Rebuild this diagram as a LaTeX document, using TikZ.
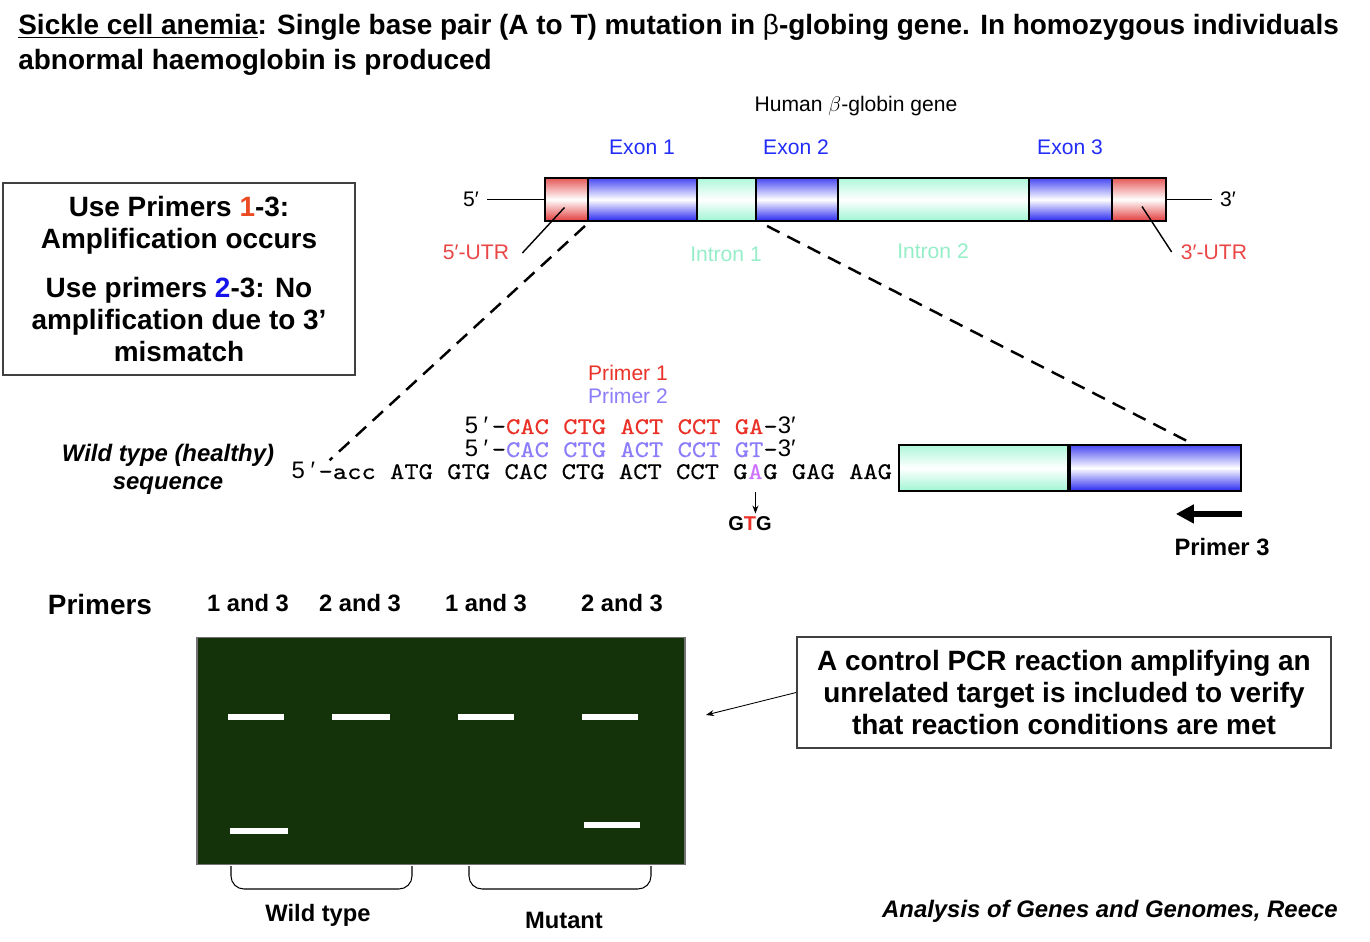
\documentclass[tikz,border=0pt]{standalone}
\usepackage{fontspec}
\setmainfont{Liberation Sans}
\newfontfamily\seqfont[FakeStretch=1.14,FakeBold=0.4]{lmmono10-regular.otf}
\newfontfamily\primefont{Liberation Sans}
\newcommand\pfive{\makebox[0.572cm][s]{\primefont\kern1pt 5\hfill′\kern2pt}}
\newcommand\pthr{\makebox[0.572cm][l]{\primefont 3′}}
\usepackage{xcolor}
\usetikzlibrary{positioning,arrows.meta,calc}
\definecolor{utrred}{RGB}{226,60,60}
\definecolor{exblue}{RGB}{40,40,240}
\definecolor{ingreen}{RGB}{160,245,212}
\definecolor{exontxt}{RGB}{35,45,250}
\definecolor{introntxt}{RGB}{150,238,200}
\definecolor{utrtxt}{RGB}{235,70,70}
\definecolor{pOne}{RGB}{235,50,40}
\definecolor{pTwo}{RGB}{140,125,250}
\definecolor{mutpink}{RGB}{205,115,255}
\definecolor{gelgreen}{RGB}{21,51,11}
\definecolor{oneorange}{RGB}{235,75,35}
\definecolor{twoblue}{RGB}{20,20,235}
\tikzset{
  seg/.style    ={draw, rectangle, line width=1.1pt, inner sep=0pt, minimum height=0.86cm},
  lbl/.style    ={inner sep=0pt, font=\fontsize{12}{14}\selectfont},
  title/.style  ={inner sep=0pt, anchor=base west, font=\fontsize{15.9}{18.2}\selectfont\bfseries},
  infobox/.style={draw=black!75, line width=1pt, align=center, inner sep=0pt, font=\fontsize{15.9}{18.2}\selectfont\bfseries},
  midtxt/.style ={inner sep=0pt, font=\fontsize{13.5}{16}\selectfont\bfseries},
  seqtxt/.style ={inner sep=0pt, anchor=base west, font=\fontsize{13.6}{16}\seqfont},
  band/.style   ={fill=white, inner sep=0pt, minimum height=0.12cm},
  dashln/.style ={line width=1.4pt, dash pattern=on 8pt off 5pt},
  ptr/.style    ={line width=0.8pt},
  arr/.style    ={-{Stealth[length=1.6mm,width=1.2mm]}, line width=0.5pt},
  pthreearr/.style={-{Triangle[length=3.6mm,width=3.6mm]}, line width=3.4pt},
}

\begin{document}
\begin{tikzpicture}[x=0.02cm, y=-0.02cm]
  \path[use as bounding box, fill=white] (0,0) rectangle (1370,942);

  \node[title] (ttlA) at (18,35) {\underline{Sickle cell anemia}: Single base pair (A to T) mutation in {\mdseries β}-globing gene. In homozygous individuals};
  \node[title] (ttlB) at (18,70) {abnormal haemoglobin is produced};

  \node[infobox, minimum width=7.04cm, minimum height=3.84cm] (useBox) at (179,279)
    {Use Primers \textcolor{oneorange}{1}-3:\\Amplification occurs\\[9.7pt]Use primers \textcolor{twoblue}{2}-3: No\\amplification due to 3’\\mismatch};

  \node[lbl] (hdr) at (856,106) {Human $\beta$-globin gene};
  \foreach \nm/\a/\b/\col in {utrA/545/588/utrred, exA/588/697/exblue, inA/697/756/ingreen, exB/756/838/exblue,
                              inB/838/1029/ingreen, exC/1029/1112/exblue, utrB/1112/1166/utrred} {
    \node[seg, top color=\col!85, bottom color=\col, middle color=white, minimum width={(\b-\a)*0.02cm}] (\nm) at ({(\a+\b)/2},199.5) {};
  }
  \node[lbl] (fiveP) at (471,199.5) {5′};
  \node[lbl] (threeP) at (1228,199.5) {3′};
  \draw[line width=1.1pt, shorten <=0.16cm] (fiveP.east) -- (utrA.west);
  \draw[line width=1.1pt, shorten >=0.16cm] (utrB.east) -- (threeP.west);

  \node[lbl, text=exontxt] (exAlbl) at (642,147) {Exon 1};
  \node[lbl, text=exontxt] (exBlbl) at (796,147) {Exon 2};
  \node[lbl, text=exontxt] (exClbl) at (1070,147) {Exon 3};
  \node[lbl, text=introntxt] (inAlbl) at (726,254) {Intron 1};
  \node[lbl, text=introntxt] (inBlbl) at (933,251) {Intron 2};
  \node[lbl, text=utrtxt] (utrAlbl) at (476,252) {5′-UTR};
  \node[lbl, text=utrtxt] (utrBlbl) at (1214,252) {3′-UTR};
  \draw[ptr] ($(utrA.center)+(-2,8)$) -- ($(utrAlbl.east)+(13,1)$);
  \draw[ptr] ($(utrB.center)+(3,7)$) -- ($(utrBlbl.west)+(-9,0)$);

  \node[lbl, text=pOne] (pOneLbl) at (628,373) {Primer 1};
  \node[lbl, text=pTwo] (pTwoLbl) at (628,396) {Primer 2};
  \node[seqtxt] (pOneRow) at (462.8,434) {\pfive-\textcolor{pOne}{CAC CTG ACT CCT GA}-\pthr};
  \node[seqtxt] (pTwoRow) at (462.8,457) {\pfive-\textcolor{pTwo}{CAC CTG ACT CCT GT}-\pthr};
  \node[seqtxt] (seqL) at (289.6,479) {\pfive-acc ATG GTG CAC CTG ACT CCT G};
  \node[seqtxt, text=mutpink] (mutA) at (seqL.base east) {A};
  \node[seqtxt] (seqR) at (mutA.base east) {G GAG AAG};
  \node[inner sep=0pt, font=\fontsize{11.4}{13}\selectfont\bfseries] (gtg) at (750,524) {G\textcolor{pOne}{T}G};
  \draw[arr, shorten <=0.26cm, shorten >=0.06cm] (mutA.south) -- (mutA.south |- gtg.north);

  \node[inner sep=0pt, align=center, font=\fontsize{13.6}{16}\selectfont\bfseries\itshape] (wtLbl) at (168,469) {Wild type (healthy)\\sequence};

  \node[seg, minimum height=0.92cm, top color=ingreen!85, bottom color=ingreen, middle color=white, minimum width=3.38cm] (inR) at (983.5,468) {};
  \node[seg, minimum height=0.92cm, top color=exblue!85, bottom color=exblue, middle color=white, minimum width=3.42cm, anchor=west] (exR) at (inR.east) {};

  \coordinate (seqTip) at ($(seqL.north west)+(40,-2)$);
  \coordinate (exRtip) at ($(exR.north west)+(124,0)$);
  \draw[dashln] ($(utrA.south east)+(-4,4)$) -- (seqTip);
  \draw[dashln] ($(exB.south west)+(12,4)$) -- (exRtip);

  \coordinate (pThrR) at ($(exR.south east)+(0,22)$);
  \coordinate (pThrL) at ($(pThrR)+(-66,0)$);
  \draw[pthreearr] (pThrR) -- (pThrL);
  \node[midtxt] (pThrLbl) at (1222,547) {Primer 3};

  \node[inner sep=0pt, font=\fontsize{15.9}{18}\selectfont\bfseries] (prmLbl) at (100,605) {Primers};
  \foreach \nm/\x/\t in {lnA/248/1 and 3, lnB/360/2 and 3, lnC/486/1 and 3, lnD/622/2 and 3} {
    \node[midtxt] (\nm) at (\x,603) {\t};
  }

  \node[draw=black!55, line width=0.8pt, fill=gelgreen, minimum width=9.76cm, minimum height=4.54cm, inner sep=0pt] (gel) at (441,751) {};
  \foreach \nm/\x/\y/\w in {bA/256/717/56, bB/361/717/58, bC/486/717/56, bD/610/717/56, bE/259/831/58, bF/612/825/56} {
    \node[band, minimum width={\w*0.02cm}] (\nm) at (\x,\y) {};
  }
  \draw[line width=0.6pt, rounded corners=0.26cm] (231,866) -- (231,889) -- (412,889) -- (412,866);
  \draw[line width=0.6pt, rounded corners=0.26cm] (469,866) -- (469,889) -- (651,889) -- (651,866);
  \node[midtxt] (wtGel) at (318,915) {Wild type};
  \node[midtxt] (mutGel) at (564,920) {Mutant};

  \node[infobox, minimum width=10.68cm, minimum height=2.22cm] (ctrlBox) at (1064,692.5)
    {A control PCR reaction amplifying an\\unrelated target is included to verify\\that reaction conditions are met};
  \coordinate (gelPt) at (706,715);
  \draw[arr] (ctrlBox.west) -- (gelPt);

  \node[inner sep=0pt, anchor=base east, font=\fontsize{13.6}{16}\selectfont\bfseries\itshape] (cite) at (1338,917) {Analysis of Genes and Genomes, Reece};
\end{tikzpicture}
\end{document}
